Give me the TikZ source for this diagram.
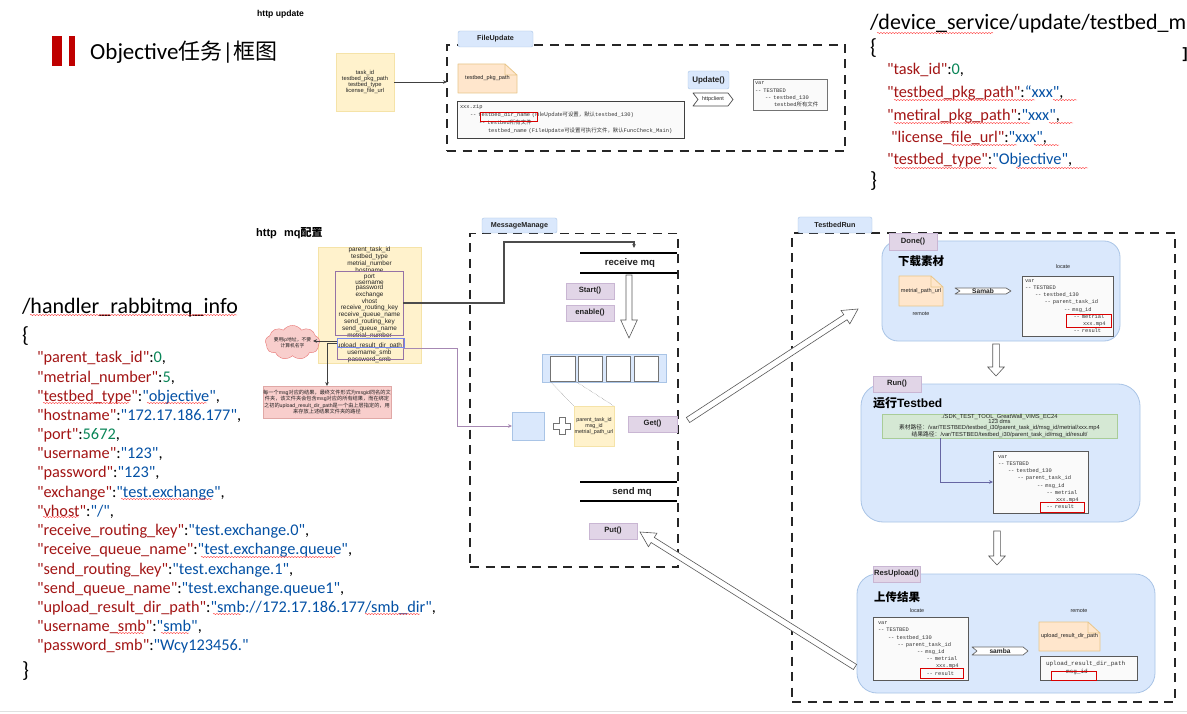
\documentclass[tikz,border=0pt]{standalone}
\usepackage{fontspec}
\setmainfont{Liberation Sans}
\newfontfamily\cjkf{Noto Sans CJK SC}
\newfontfamily\jsonf{Carlito}
\newfontfamily\monof{Liberation Mono}
\usetikzlibrary{arrows.meta,calc,shapes.symbols,decorations.pathmorphing}
\definecolor{jkey}{HTML}{A31515}
\definecolor{jstr}{HTML}{0451A5}
\definecolor{jnum}{HTML}{098658}
\definecolor{bluef}{HTML}{DAE8FC}
\definecolor{blues}{HTML}{A9C4E6}
\definecolor{yelf}{HTML}{FFF2CC}
\definecolor{yels}{HTML}{F5E3A8}
\definecolor{orf}{HTML}{FFE6CC}
\definecolor{ors}{HTML}{E8C68A}
\definecolor{purf}{HTML}{E1D5E7}
\definecolor{purs}{HTML}{C9B6D3}
\definecolor{purl}{HTML}{9673A6}
\definecolor{pinkf}{HTML}{F8CECC}
\definecolor{pinks}{HTML}{E0A8A6}
\definecolor{grnf}{HTML}{D5E8D4}
\definecolor{grns}{HTML}{A9CC98}
\definecolor{txt}{HTML}{222222}
\definecolor{treef}{HTML}{FAFAFA}
\newcommand\pxbox[7]{\pgfmathsetmacro\pxw{#5-#3}\pgfmathsetmacro\pxh{#6-#4}\pgfmathsetmacro\pxcx{(#3+#5)/2}\pgfmathsetmacro\pxcy{(#4+#6)/2}\node[#1,minimum width=\pxw pt,minimum height=\pxh pt,inner sep=0pt,outer sep=0pt] (#2) at (\pxcx,\pxcy) {#7};}
\newcommand\foldnote[6]{\fill[orf] (#2,#3) -- (#4-12,#3) -- (#4,#3+11) -- (#4,#5) -- (#2,#5) -- cycle;
 \draw[ors,line width=.8pt,line join=round] (#2,#3) -- (#4-12,#3) -- (#4,#3+11) -- (#4,#5) -- (#2,#5) -- cycle (#4-12,#3) -- (#4-12,#3+11) -- (#4,#3+11);
 \pxbox{text=txt,font=\fontsize{5.6}{6}\selectfont}{#1}{#2}{#3}{#4}{#5}{#6}}
\newcommand\stepshape[7]{\fill[white] (#2,#3) -- (#4-5,#3) -- (#4,#3/2+#5/2) -- (#4-5,#5) -- (#2,#5) -- (#2+5,#3/2+#5/2) -- cycle;
 \draw[#7,line width=.7pt,line join=round] (#2,#3) -- (#4-5,#3) -- (#4,#3/2+#5/2) -- (#4-5,#5) -- (#2,#5) -- (#2+5,#3/2+#5/2) -- cycle;
 \pxbox{text=txt,font=\fontsize{6.6}{7}\selectfont\bfseries}{#1}{#2}{#3}{#4}{#5}{#6}}
\newcommand\hollow[5]{\coordinate (hh) at ($(#2)!#5pt!(#1)$);
 \draw[draw=black!65,fill=white,line width=.6pt,line join=miter] ($(#1)!#3pt!90:(#2)$) -- ($(hh)!#3pt!90:(#2)$) -- ($(hh)!#4pt!90:(#2)$) -- (#2) -- ($(hh)!#4pt!-90:(#2)$) -- ($(hh)!#3pt!-90:(#2)$) -- ($(#1)!#3pt!-90:(#2)$) -- cycle;}
\newcommand\jk[1]{\textcolor{jkey}{#1}}
\newcommand\js[1]{\textcolor{jstr}{#1}}
\newcommand\jn[1]{\textcolor{jnum}{#1}}
\newcommand\treelines{var\\-- TESTBED\\\hspace*{10pt}-- testbed\_130\\\hspace*{19.5pt}-- parent\_task\_id\\\hspace*{39pt}-- msg\_id\\\hspace*{48.5pt}-- metrial\\\hspace*{58pt}xxx.mp4\\\hspace*{48.5pt}-- result}
\tikzset{
 x=1pt,y=-1pt,
 dashbox/.style={draw=black!85,line width=1.1pt,dash pattern=on 9pt off 6.5pt},
 tabblue/.style={draw=blues,fill=bluef,rounded corners=2pt,text=txt,font=\fontsize{7.2}{8}\selectfont\bfseries},
 tabpur/.style={draw=purs,fill=purf,text=txt,font=\fontsize{7.6}{8}\selectfont\bfseries},
 yellowbox/.style={draw=yels,fill=yelf,text=txt,align=center},
 panel/.style={draw=blues,fill=bluef,line width=.8pt},
 treebox/.style={draw=black!65,fill=treef,line width=.8pt,text=black!80,align=left},
 redmark/.style={draw=red!85!black,line width=.9pt},
 wavy/.style={draw=red!80,line width=.4pt,decorate,decoration={snake,segment length=3pt,amplitude=.55pt}},
 jline/.style={anchor=base west,inner sep=0pt,outer sep=0pt,font=\fontsize{16.3}{18}\jsonf\selectfont,text=black},
 jhead/.style={anchor=base west,inner sep=0pt,outer sep=0pt,font=\fontsize{22}{24}\jsonf\selectfont,text=black},
 hd/.style={anchor=west,inner sep=0pt,text=black,font=\fontsize{12}{13}\selectfont\bfseries},
 tiny/.style={inner sep=0pt,text=txt,font=\fontsize{5.4}{6}\selectfont},
 conn/.style={draw=black!75,line width=.9pt,-{Stealth[length=4pt,width=3.6pt]}},
 barline/.style={draw=black,line width=1.2pt},
}
\begin{document}
\begin{tikzpicture}
\useasboundingbox[fill=white] (0,0) rectangle (1187,714);
\fill[black!12] (0,711) rectangle (1187,712);
% title
\fill[red!75!black] (52,36) rectangle (62,66);
\fill[red!75!black] (69,36) rectangle (75,66);
\node[anchor=west,inner sep=0pt,font=\fontsize{23}{25}\jsonf\selectfont] (title) at (90,52) {Objective{\cjkf\fontsize{22}{25}\selectfont 任务}|{\cjkf\fontsize{22}{25}\selectfont 框图}};
\node[anchor=west,inner sep=0pt,font=\fontsize{8.6}{9}\selectfont\bfseries] (httpup) at (257,14) {http update};
% top JSON
\node[jhead] (dtitle) at (870,30) {/device\_service/update/testbed\_metiral};
\node[jhead] (dopen) at (870,55) {\{};
\node[jline] (d1) at (887,75) {\jk{"task\_id"}:\jn{0},};
\node[jline] (d2) at (887,98) {\jk{"testbed\_pkg\_path"}:\js{“xxx"},};
\node[jline] (d3) at (887,121) {\jk{"metiral\_pkg\_path"}:\js{"xxx"},};
\node[jline] (d4) at (891,143) {\jk{"license\_file\_url"}:\js{"xxx"},};
\node[jline] (d5) at (887,165) {\jk{"testbed\_type"}:\js{"Objective"},};
\node[jhead] (dclose) at (870,188) {\}};
\node[anchor=center,inner sep=0pt,font=\fontsize{15}{16}\selectfont\bfseries] (dbr) at (1185,55) {]};
\foreach \a/\b/\c in {877/993/33,894/1035/100,1053/1077/100,894/1030/123,1049/1073/123,951/1017/145,1034/1059/145,894/997/168,1016/1088/168}
 \draw[wavy] (\a,\c) -- (\b,\c);
% left JSON
\node[jhead] (htitle) at (22,314) {/handler\_rabbitmq\_info};
\node[jhead] (hopen) at (22,342) {\{};
\node[jline] (h1) at (37,362) {\jk{"parent\_task\_id"}:\jn{0},};
\node[jline] (h2) at (37,382) {\jk{"metrial\_number"}:\jn{5},};
\node[jline] (h3) at (37,401) {\jk{"testbed\_type"}:\js{"objective"},};
\node[jline] (h4) at (37,420) {\jk{"hostname"}:\js{"172.17.186.177"},};
\node[jline] (h5) at (37,439) {\jk{"port"}:\jn{5672},};
\node[jline] (h6) at (37,458) {\jk{"username"}:\js{"123"},};
\node[jline] (h7) at (37,477) {\jk{"password"}:\js{"123"},};
\node[jline] (h8) at (37,497) {\jk{"exchange"}:\js{"test.exchange"},};
\node[jline] (h9) at (37,516) {\jk{"vhost"}:\js{"/"},};
\node[jline] (h10) at (37,535) {\jk{"receive\_routing\_key"}:\js{"test.exchange.0"},};
\node[jline] (h11) at (37,554) {\jk{"receive\_queue\_name"}:\js{"test.exchange.queue"},};
\node[jline] (h12) at (37,574) {\jk{"send\_routing\_key"}:\js{"test.exchange.1"},};
\node[jline] (h13) at (37,593) {\jk{"send\_queue\_name"}:\js{"test.exchange.queue1"},};
\node[jline] (h14) at (37,612) {\jk{"upload\_result\_dir\_path"}:\js{"smb://172.17.186.177/smb\_dir"},};
\node[jline] (h15) at (37,631) {\jk{"username\_smb"}:\js{"smb"},};
\node[jline] (h16) at (37,650) {\jk{"password\_smb"}:\js{"Wcy123456."}};
\node[jhead] (hclose) at (22,677) {\}};
\foreach \a/\b/\c in {30/237/315,43/129/403,147/207/403,121/212/499,43/79/517,201/335/557,213/241/614,365/420/614,116/144/633,161/189/633}
 \draw[wavy] (\a,\c) -- (\b,\c);
% FileUpdate group
\pxbox{yellowbox,font=\fontsize{5.8}{6}\selectfont}{upd}{336}{53}{394}{111}{task\_id\\testbed\_pkg\_path\\testbed\_type\\license\_file\_url}
\pxbox{dashbox}{fud}{447}{45}{845}{151}{}
\pxbox{tabblue}{fut}{458}{31}{533}{47}{FileUpdate}
\foldnote{pkg}{458}{64}{517}{93}{testbed\_pkg\_path}
\pxbox{treebox,draw=black!75,font=\fontsize{5.4}{8}\monof\selectfont,text width=221pt}{zip}{457}{101}{684}{138}{xxx.zip\\\hspace*{10pt}-- testbed\_dir\_name ({\cjkf FileUpdate可设置，默认}testbed\_130)\\\hspace*{19pt}-- testbed{\cjkf 所有文件}\\\hspace*{28pt}testbed\_name (FileUpdate{\cjkf 可设置可执行文件，默认}FuncCheck\_Main)}
\draw[redmark] (480,112) rectangle (537,121);
\pxbox{tabblue,font=\fontsize{8}{9}\selectfont\bfseries}{upb}{688}{71}{729}{89}{Update()}
\stepshape{hc}{693}{93}{733}{106}{\fontsize{5.4}{6}\selectfont\mdseries httpclient}{black!70}
\pxbox{treebox,draw=black!55,font=\fontsize{5.4}{7.4}\monof\selectfont,text width=70pt}{uv}{753}{79}{827}{110}{var\\-- TESTBED\\\hspace*{10pt}-- testbed\_130\\\hspace*{19pt}testbed{\cjkf 所有文件}}
\draw[conn] (upd.east) -- (upd.east -| fud.west);
% mq config
\node[anchor=west,inner sep=0pt,font=\fontsize{11}{12}\selectfont\bfseries] (mqt) at (256,233) {http\hspace{4pt} mq{\cjkf\bfseries 配置}};
\pxbox{yellowbox,font=\fontsize{6.4}{5.73}\selectfont,anchor=center}{mq}{318}{253}{421}{357}{parent\_task\_id\\testbed\_type\\metrial\_number\\hostname\\port\\username\\password\\exchange\\vhost\\receive\_routing\_key\\receive\_queue\_name\\send\_routing\_key\\send\_queue\_name\\metrial\_number\\[3.5pt]upload\_result\_dir\_path\\username\_smb\\password\_smb}
\pxbox{draw=purl,line width=.9pt}{hostb}{335}{271}{403}{335}{}
\pxbox{draw=purl,line width=.9pt}{smbb}{337}{338}{403}{359}{}
\pxbox{draw=blues!70!blue,line width=.8pt}{upb2}{337}{338}{404}{347}{}
\node[cloud,cloud puffs=9,cloud puff arc=110,aspect=2,draw=pinks!70!red,fill=pinkf,inner sep=0pt,outer sep=0pt,minimum width=39pt,minimum height=21pt,align=center,text=txt,font=\fontsize{4.8}{6}\selectfont] (cld) at (292.5,342.5) {{\cjkf 要用}ip{\cjkf 地址，不要}\\{\cjkf 计算机名字}};
\pxbox{draw=pinks,fill=pinkf,text=txt,align=center,font=\fontsize{5.2}{6.6}\selectfont}{pk}{267}{386}{387}{418}{{\cjkf 每一个}msg{\cjkf 对应的结果，最终文件形式为}msgid{\cjkf 同名的文}\\{\cjkf 件夹，该文件夹会包含}msg{\cjkf 对应的所有结果，而在绑定}\\{\cjkf 之初的}upload\_result\_dir\_path{\cjkf 是一个由上层指定的，用}\\{\cjkf 来存放上述结果文件夹的路径}}
\draw[conn,line width=.7pt] (upb2.west |- 0,341) -- (313,341);
\coordinate (pkt) at (327,386);
\draw[conn,line width=.7pt] (upb2.west |- 0,343) -| (pkt);
% MessageManage
\pxbox{dashbox}{mmd}{470}{233.5}{678}{567}{}
\pxbox{tabblue}{mmt}{482}{218}{557}{233}{MessageManage}
\coordinate (c1) at (504,242);
\coordinate (c2) at (634,248);
\draw[conn,draw=black!70,line width=1.1pt] (hostb.east) -| (c1) -| (c2);
\draw[barline] (580,253) -- (677,253);
\draw[barline] (580,273) -- (677,273);
\node[inner sep=0pt,text=txt,font=\fontsize{9.6}{10}\selectfont\bfseries] (rcv) at (630,263.5) {receive mq};
\pxbox{tabpur}{st}{566}{283}{614}{299}{Start()}
\pxbox{tabpur}{en}{566}{305}{614}{321}{enable()}
\coordinate (da1) at (629,275); \coordinate (da2) at (629,338);
\hollow{da1}{da2}{3}{8.3}{18}
\pxbox{draw=blues,fill=bluef}{qu}{542}{354}{666}{382}{}
\pxbox{draw=black!55,fill=white,line width=.7pt}{q1}{550}{356}{575}{381}{}
\pxbox{draw=black!55,fill=white,line width=.7pt}{q2}{578}{356}{602}{381}{}
\pxbox{draw=black!55,fill=white,line width=.7pt}{q3}{606}{356}{630}{381}{}
\pxbox{draw=black!55,fill=white,line width=.7pt}{q4}{634}{356}{658}{381}{}
\pxbox{yellowbox,font=\fontsize{5.4}{6}\selectfont}{msg}{574}{406}{614}{446}{parent\_task\_id\\msg\_id\\metrial\_path\_url}
\draw[black!60,line width=.4pt,densely dotted] (q1.south west) -- (msg.north west);
\draw[black!60,line width=.4pt,densely dotted] (q1.south east) -- (msg.north east);
\pxbox{draw=blues,fill=bluef}{bs}{512}{412}{544}{440}{}
\draw[draw=black!55,fill=white,line width=.6pt] (559.2,417.5) -- (564.8,417.5) -- (564.8,423.2) -- (570.5,423.2) -- (570.5,428.8) -- (564.8,428.8) -- (564.8,434.5) -- (559.2,434.5) -- (559.2,428.8) -- (553.5,428.8) -- (553.5,423.2) -- (559.2,423.2) -- cycle;
\coordinate (c3) at (457,426);
\draw[conn,draw=purl!85!white,line width=1pt] (smbb.east) -| (c3) -- (bs.west);
\pxbox{tabpur}{gt}{628}{416}{677}{432}{Get()}
\draw[barline] (580,482) -- (677,482);
\draw[barline] (580,501) -- (677,501);
\node[inner sep=0pt,text=txt,font=\fontsize{9.6}{10}\selectfont\bfseries] (snd) at (632,492) {send mq};
\pxbox{tabpur}{pt}{589}{523}{637}{539}{Put()}
% TestbedRun
\pxbox{dashbox}{trd}{792}{233}{1175}{702}{}
\pxbox{tabblue}{trt}{798}{217}{872}{233}{TestbedRun}
% Done
\pxbox{panel,rounded corners=16pt}{dp}{882}{241}{1120}{341}{}
\pxbox{tabpur}{dt}{889}{233}{937}{250}{Done()}
\node[hd,font=\fontsize{11.5}{12}\cjkf\bfseries\selectfont] (dh) at (898,261) {下载素材};
\foldnote{mp}{899}{276}{943}{306}{metrial\_path\_url}
\node[tiny] (rm1) at (921,314) {remote};
\stepshape{sm1}{955}{288}{1011}{294}{Samab}{black!60}
\node[tiny] (lc1) at (1063,267) {locate};
\pxbox{treebox,font=\fontsize{5.4}{7.2}\monof\selectfont,text width=85pt}{t1}{1022}{276}{1113}{336}{\treelines}
\draw[redmark] (1066,314) rectangle (1111,327);
\coordinate (a1) at (996,344); \coordinate (a2) at (996,376);
\hollow{a1}{a2}{3.3}{8.3}{9}
% Run
\pxbox{panel,rounded corners=22pt}{rp}{861}{384}{1140}{522}{}
\pxbox{tabpur}{rt}{873}{376}{921}{392}{Run()}
\node[hd] (rh) at (873,403) {{\cjkf\bfseries 运行}Testbed};
\pxbox{draw=grns,fill=grnf,text=txt,align=center,font=\fontsize{5.8}{5.8}\selectfont}{gb}{882}{414}{1117}{438}{./SDK\_TEST\_TOOL\_GreatWall\_VIMS\_EC24\\123 dms\\{\cjkf 素材路径：}/var/TESTBED/testbed\_i30/parent\_task\_id/msg\_id/metrial/xxx.mp4\\{\cjkf 结果路径：}/var/TESTBED/testbed\_i30/parent\_task\_id/msg\_id/result/}
\pxbox{treebox,font=\fontsize{5.4}{7.2}\monof\selectfont,text width=85pt}{t2}{993}{451}{1088}{513}{\treelines}
\draw[redmark] (1040,502) rectangle (1084,512);
\coordinate (c4) at (940,438);
\draw[conn,draw=black!60!blue!60!white] (c4) |- (t2.west);
\coordinate (b1) at (997,531); \coordinate (b2) at (997,565);
\hollow{b1}{b2}{3.3}{8.3}{9}
% ResUpload
\pxbox{panel,rounded corners=20pt}{up}{857}{574}{1155}{693}{}
\pxbox{tabpur}{ut}{873}{566}{920}{582}{ResUpload()}
\node[hd,font=\fontsize{11.5}{12}\cjkf\bfseries\selectfont] (uh) at (874,597) {上传结果};
\node[tiny] (lc2) at (917,611) {locate};
\node[tiny] (rm2) at (1079,611) {remote};
\pxbox{treebox,font=\fontsize{5.4}{7.2}\monof\selectfont,text width=85pt}{t3}{873}{617}{968}{680}{\treelines}
\draw[redmark] (920,668) rectangle (963,678);
\stepshape{sm2}{972}{647}{1028}{655}{samba}{black!60}
\foldnote{urp}{1039}{622}{1100}{651}{upload\_result\_dir\_path}
\pxbox{treebox,font=\fontsize{6}{8}\monof\selectfont,text width=85pt}{t4}{1040}{656}{1137}{680}{upload\_result\_dir\_path\\\hspace*{11pt}-- msg\_id}
\draw[redmark] (1051,671) rectangle (1096,680);
% big hollow arrows
\coordinate (g1) at (688,420); \coordinate (g2) at (858,309);
\hollow{g1}{g2}{3}{8}{15}
\coordinate (p1) at (855,667); \coordinate (p2) at (640,532);
\hollow{p1}{p2}{3}{8}{15}
\end{tikzpicture}
\end{document}
